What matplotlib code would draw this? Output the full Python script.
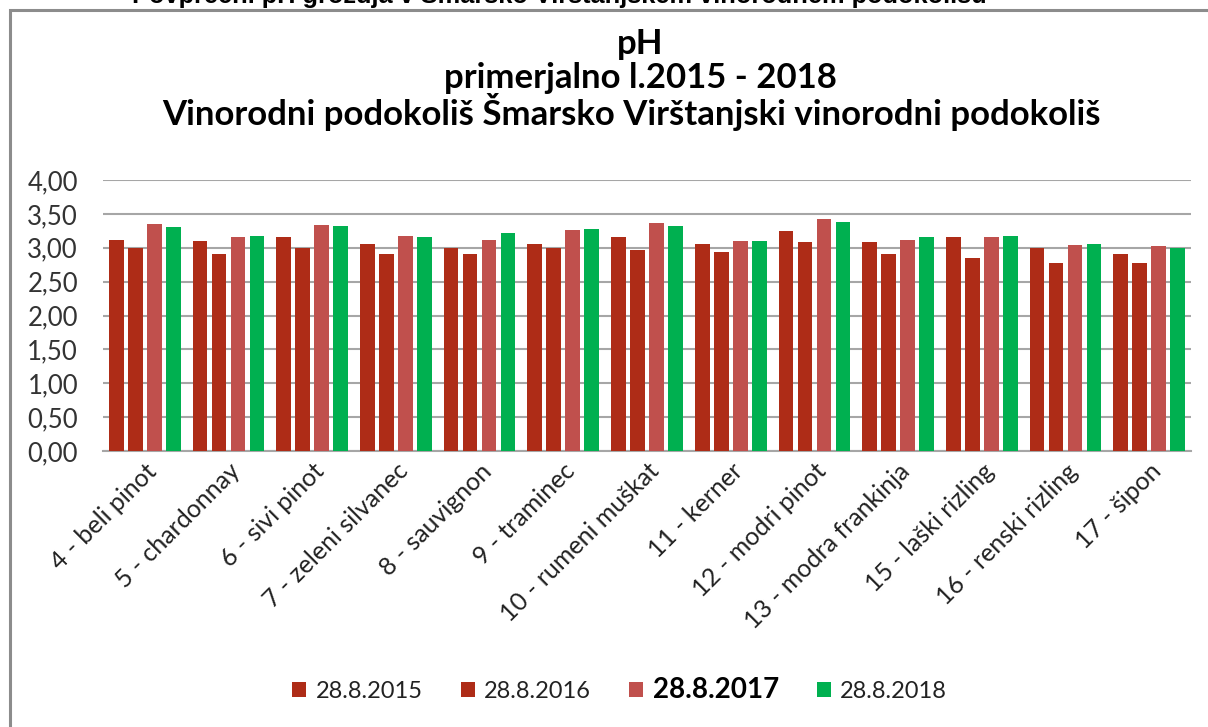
import matplotlib.pyplot as plt
import matplotlib.patches as mpatches
import numpy as np

plt.rcParams['font.family'] = ['Lato', 'DejaVu Sans']

# pH values per variety
varieties = ['4 - beli pinot', '5 - chardonnay', '6 - sivi pinot', '7 - zeleni silvanec',
             '8 - sauvignon', '9 - traminec', '10 - rumeni muškat', '11 - kerner',
             '12 - modri pinot', '13 - modra frankinja', '15 - laški rizling',
             '16 - renski rizling', '17 - šipon']
ph_2015 = [3.11, 3.10, 3.16, 3.06, 3.00, 3.06, 3.16, 3.06, 3.24, 3.08, 3.16, 3.00, 2.91]
ph_2016 = [3.00, 2.91, 3.00, 2.91, 2.91, 3.00, 2.97, 2.93, 3.08, 2.91, 2.85, 2.77, 2.77]
ph_2017 = [3.35, 3.16, 3.34, 3.18, 3.12, 3.26, 3.36, 3.10, 3.42, 3.12, 3.16, 3.04, 3.02]
ph_2018 = [3.30, 3.18, 3.32, 3.16, 3.22, 3.28, 3.32, 3.10, 3.38, 3.16, 3.18, 3.06, 3.00]
series_labels = ['28.8.2015', '28.8.2016', '28.8.2017', '28.8.2018']
colors = ['#AE2C17', '#AE2C17', '#C0504D', '#00B050']

fig = plt.figure(figsize=(12.08, 7.27), dpi=100)

# chart frame (cut off at the right and bottom)
frame = mpatches.Rectangle((10 / 1208, -0.05), 1.2, 1 - 10 / 727 + 0.05,
                           transform=fig.transFigure, fill=False,
                           edgecolor='#8C8C8C', linewidth=2.2)
fig.patches.append(frame)

# heading of the page, only its lower part visible
fig.text(0.463, 1 - 3 / 727, 'Povprečni pH grozdja v Šmarsko Virštanjskem vinorodnem podokolišu',
         ha='center', va='baseline', fontsize=18.3, fontweight='bold',
         family='Liberation Sans', color='black')

fig.text(0.53, 1 - 44 / 727, 'pH', ha='center', va='center', fontsize=25,
         fontweight='bold', color='black')
fig.text(0.53, 1 - 78 / 727, 'primerjalno l.2015 - 2018', ha='center', va='center',
         fontsize=25, fontweight='bold', color='black')
fig.text(0.523, 1 - 112 / 727, 'Vinorodni podokoliš Šmarsko Virštanjski vinorodni podokoliš',
         ha='center', va='center', fontsize=25, fontweight='bold', color='black')

ax = fig.add_axes([103 / 1208, 1 - 451 / 727, (1191 - 103) / 1208, (451 - 180) / 727])

x = np.arange(len(varieties))
step = 0.227
width = 0.175
all_series = [ph_2015, ph_2016, ph_2017, ph_2018]
handles = []
for i, (vals, lab, col) in enumerate(zip(all_series, series_labels, colors)):
    h = ax.bar(x + (i - 1.5) * step, vals, width, color=col, label=lab, zorder=3)
    handles.append(h)

ax.set_xlim(-0.5, len(varieties) - 0.5)
ax.set_ylim(0, 4)
yt = np.arange(0, 4.01, 0.5)
ax.set_yticks(yt)
ax.set_yticklabels([f'{v:.2f}'.replace('.', ',') for v in yt], fontsize=18.5, color='#333333')
ax.set_xticks(x)
ax.set_xticklabels(varieties, rotation=45, ha='right', rotation_mode='anchor',
                   fontsize=18, color='#222222')
ax.tick_params(axis='both', length=0)
ax.tick_params(axis='y', pad=18)
ax.tick_params(axis='x', pad=6)
ax.grid(axis='y', color='#A6A6A6', linewidth=1.5, zorder=0)
for s in ['top', 'right', 'left']:
    ax.spines[s].set_visible(False)
ax.spines['bottom'].set_color('#A6A6A6')
ax.spines['bottom'].set_linewidth(1.5)

leg = fig.legend(handles=handles, labels=series_labels, loc='center',
                 bbox_to_anchor=(0.513, 1 - 690 / 727), ncol=4, frameon=False,
                 fontsize=17, handlelength=0.6, handleheight=0.6, handletextpad=0.4,
                 columnspacing=1.6)
for t in leg.get_texts():
    t.set_color('#222222')
leg.get_texts()[2].set_fontweight('bold')
leg.get_texts()[2].set_fontsize(20)
leg.get_texts()[2].set_color('black')

fig.savefig('out.png', dpi=100)
